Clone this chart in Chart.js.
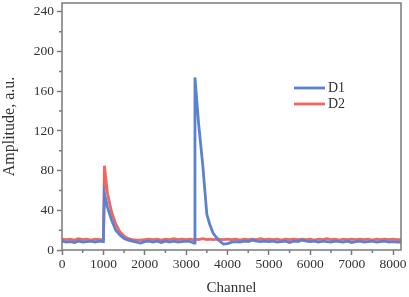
<!DOCTYPE html>
<html>
<head>
<meta charset="utf-8">
<script src="https://cdn.jsdelivr.net/npm/chart.js@4.4.1/dist/chart.umd.min.js"></script>
<style>
html,body{margin:0;padding:0;background:#fff;}
#wrap{width:409px;height:297px;position:relative;}
</style>
</head>
<body>
<div id="wrap"><canvas id="c"></canvas></div>
<script>
const channels = [0,100,200,300,400,500,600,700,800,900,1000,1025,1100,1200,1300,1400,1500,1600,1700,1800,1900,2000,2100,2200,2300,2400,2500,2600,2700,2800,2900,3000,3100,3150,3190,3213,3300,3400,3500,3570,3650,3780,3900,4000,4100,4200,4300,4400,4500,4600,4700,4800,4900,5000,5100,5200,5300,5400,5500,5600,5700,5800,5900,6000,6100,6200,6300,6400,6500,6600,6700,6800,6900,7000,7100,7200,7300,7400,7500,7600,7700,7800,7900,8000,8100,8192];
const d1 = [9,8,8.5,7.5,9,8,8.5,9,8,9,8.5,57,43,30,20,15,11.5,10,9,8,7,8.5,9,8,9,7.5,9,8,9,8,8.5,9,8.5,7.5,7,174,128,86,36,26,17,10,6,6.5,8,8.5,8,9,8.5,10,9,8.5,9,8.5,9,8,8.5,9,7.5,9,8.5,10,9,8.5,9,8,9,8.5,8,9,8.5,8,9,7.5,8.5,9,8,8.5,9,8,8.5,9,8,8.5,8,8];
const d2 = [11,10.5,11,10,11.5,10.5,11,10,11,10.5,10.5,85,57,38,26,18.5,14,11.5,10.5,10,10,10.5,11,10.5,11,10,11,10.5,11.5,10.5,11,10.5,11,10.5,10,11,10.5,11.5,10.5,11,10.5,11,10.5,11,10.5,11,10,11,10.5,11,10.5,11.5,10.5,11,10.5,11,10,11,10.5,11,10.5,11,10.5,11,10,11,10.5,11.5,10.5,11,10,11,10.5,11,10.5,11,10.5,11,10,11,10.5,11,10.5,11,10.5,10.5];
const seriesNames = ['D1','D2'];
const seriesColors = ['#5b82d2','#f0675f'];
const yTicksMajor = [0,40,80,120,160,200,240];
const yTicksMinor = [20,60,100,140,180,220];
const xTicksMajor = [0,1000,2000,3000,4000,5000,6000,7000,8000];
const xTicksMinor = [500,1500,2500,3500,4500,5500,6500,7500];

const FONT = "'Liberation Serif','Times New Roman',serif";
const AXIS = '#7a7a7a';
const TXT = '#333333';

const framePlugin = {
  id:'frame',
  afterDraw(chart){
    const {ctx, chartArea:a, scales:{x,y}} = chart;
    ctx.save();
    ctx.strokeStyle = AXIS;
    ctx.lineWidth = 1.5;
    ctx.strokeRect(a.left, a.top, a.right-a.left, a.bottom-a.top);
    ctx.beginPath();
    yTicksMinor.forEach(v=>{const p=y.getPixelForValue(v); ctx.moveTo(a.left-3,p); ctx.lineTo(a.left,p);});
    xTicksMinor.forEach(v=>{const p=x.getPixelForValue(v); ctx.moveTo(p,a.bottom); ctx.lineTo(p,a.bottom+3);});
    ctx.stroke();
    // legend
    const lx = a.left + 232, ly = a.top + 85;
    chart.data.datasets.forEach((ds,i)=>{
      const yy = ly + i*16;
      ctx.strokeStyle = ds.borderColor;
      ctx.lineWidth = 2.8;
      ctx.beginPath(); ctx.moveTo(lx,yy); ctx.lineTo(lx+31,yy); ctx.stroke();
      ctx.fillStyle = TXT;
      ctx.font = "14px " + FONT;
      ctx.textBaseline = 'middle';
      ctx.fillText(ds.label, lx+34, yy+0.5);
    });
    ctx.restore();
  }
};

new Chart(document.getElementById('c'), {
  type:'line',
  data:{
    datasets: seriesNames.map((n,i)=>({
      label:n,
      data: channels.map((c,k)=>({x:c, y:(i===0?d1:d2)[k]})),
      borderColor: seriesColors[i],
      borderWidth: 2.8,
      pointRadius: 0,
      tension: 0,
      fill:false
    }))
  },
  options:{
    responsive:true,
    maintainAspectRatio:false,
    animation:false,
    layout:{padding:{top:3,right:8,left:0,bottom:0}},
    plugins:{legend:{display:false}, tooltip:{enabled:false}},
    scales:{
      x:{
        type:'linear', min:0, max:8192,
        afterBuildTicks(s){ s.ticks = xTicksMajor.map(v=>({value:v})); },
        afterFit(s){ s.height = 47; s.paddingLeft = 0; s.paddingRight = 0; },
        ticks:{font:{family:FONT,size:13.5}, color:TXT, padding:1, maxRotation:0, autoSkip:false, callback:(v)=>String(v)},
        grid:{display:true, drawOnChartArea:false, drawTicks:true, tickLength:5, tickColor:AXIS, tickWidth:1.5},
        border:{display:false},
        title:{display:true, text:'Channel', font:{family:FONT,size:15}, color:TXT, padding:{top:4,bottom:0}}
      },
      y:{
        type:'linear', min:0, max:249,
        afterBuildTicks(s){ s.ticks = yTicksMajor.map(v=>({value:v})); },
        afterFit(s){ s.width = 62; s.paddingTop = 0; s.paddingBottom = 0; },
        ticks:{font:{family:FONT,size:13.5}, color:TXT, padding:3, autoSkip:false, callback:(v)=>String(v)},
        grid:{display:true, drawOnChartArea:false, drawTicks:true, tickLength:5, tickColor:AXIS, tickWidth:1.5},
        border:{display:false},
        title:{display:true, text:'Amplitude, a.u.', font:{family:FONT,size:16}, color:TXT, padding:{top:0,bottom:0}}
      }
    }
  },
  plugins:[framePlugin]
});
</script>
</body>
</html>
